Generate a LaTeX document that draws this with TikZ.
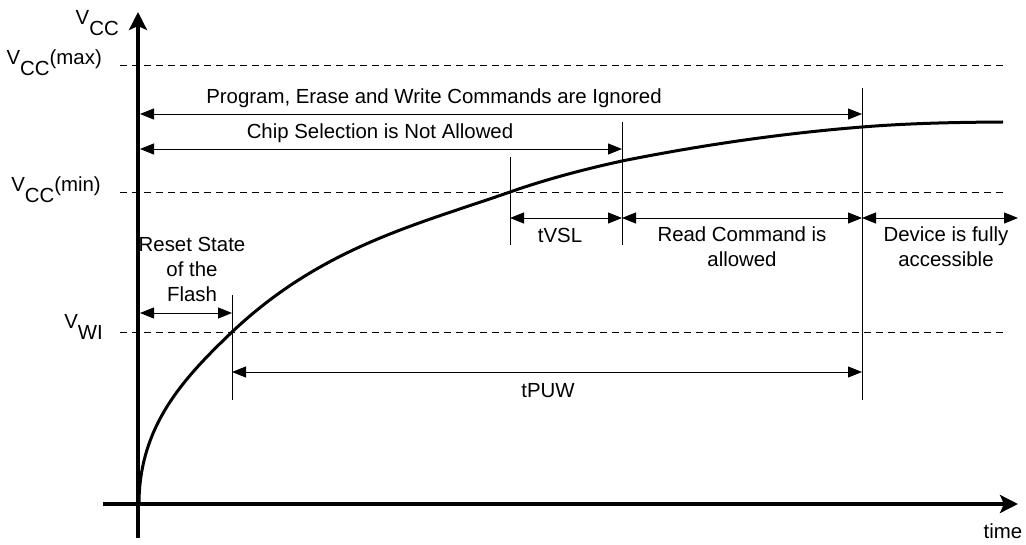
\documentclass[tikz,border=0pt]{standalone}
\usepackage{fontspec}
\setmainfont{Liberation Sans}
\usetikzlibrary{arrows.meta}
\newcommand{\lowsub}[1]{\raisebox{-11pt}{#1}}
\begin{document}
\begin{tikzpicture}[x=1pt,y=-1pt,
  font=\fontsize{20.4}{25}\selectfont,
  axisline/.style={line width=4pt,-{Stealth[length=18pt,width=18pt,inset=4pt]}},
  dimline/.style={line width=0.9pt,{Triangle[length=14pt,width=11pt]}-{Triangle[length=14pt,width=11pt]}},
  tickline/.style={line width=0.9pt},
  levelline/.style={line width=0.9pt,dash pattern=on 7pt off 5pt},
  curveline/.style={line width=3pt},
  lbl/.style={inner sep=0pt,align=center}]
\useasboundingbox (0,0) rectangle (1026,545);
% axes
\coordinate (ybot) at (138,538);
\coordinate (ytop) at (138,12);
\coordinate (xleft) at (103,504);
\coordinate (xright) at (1018,504);
% dashed levels
\coordinate (maxL) at (120,65);  \coordinate (maxR) at (1005,65);
\coordinate (minL) at (120,192); \coordinate (minR) at (1005,192);
\coordinate (wiL) at (120,332);  \coordinate (wiR) at (1005,332);
\draw[levelline] (maxL) -- (maxR);
\draw[levelline] (minL) -- (minR);
\draw[levelline] (wiL) -- (wiR);
% vertical markers
\coordinate (v1t) at (232,295); \coordinate (v1b) at (232,400);
\coordinate (v2t) at (510,157); \coordinate (v2b) at (510,245);
\coordinate (v3t) at (622,122); \coordinate (v3b) at (622,245);
\coordinate (v4t) at (862,88);  \coordinate (v4b) at (862,400);
\draw[tickline] (v1t) -- (v1b);
\draw[tickline] (v2t) -- (v2b);
\draw[tickline] (v3t) -- (v3b);
\draw[tickline] (v4t) -- (v4b);
% curve
\coordinate (c0) at (139,504);
\coordinate (c1) at (232,332);
\coordinate (c2) at (510,192);
\coordinate (c3) at (622,161);
\coordinate (c4) at (862,127);
\coordinate (c5) at (1003,122);
\draw[curveline,line cap=butt] (c0) .. controls (139,425) and (185,377) .. (c1)
  .. controls (322,247) and (417,224.6) .. (c2)
  .. controls (547,179) and (585,169.1) .. (c3)
  .. controls (702,145) and (782,133.4) .. (c4)
  .. controls (909,123.2) and (956,122.3) .. (c5);
\draw[axisline] (ybot) -- (ytop);
\draw[axisline] (xleft) -- (xright);
% dimension arrows
\coordinate (pA) at (140,114); \coordinate (pB) at (862,114);
\coordinate (cA) at (140,149); \coordinate (cB) at (622,149);
\coordinate (rA) at (140,313); \coordinate (rB) at (232,313);
\coordinate (tA) at (510,218); \coordinate (tB) at (622,218);
\coordinate (mB) at (862,218);
\coordinate (dB) at (1018,218);
\coordinate (uA) at (232,372); \coordinate (uB) at (862,372);
\draw[dimline] (pA) -- (pB);
\draw[dimline] (cA) -- (cB);
\draw[dimline] (rA) -- (rB);
\draw[dimline] (tA) -- (tB);
\draw[dimline] (tB) -- (mB);
\draw[dimline] (mB) -- (dB);
\draw[dimline] (uA) -- (uB);
% labels
\node[lbl,anchor=base east] (lvcc) at (119,25) {V\lowsub{CC}};
\node[lbl,anchor=base east] (lmax) at (102,65) {V\lowsub{CC}(max)};
\node[lbl,anchor=base east] (lmin) at (101,192) {V\lowsub{CC}(min)};
\node[lbl,anchor=base east] (lwi) at (103,329) {V\lowsub{WI}};
\node[lbl,anchor=base] (tprog) at (434,104) {Program, Erase and Write Commands are Ignored};
\node[lbl,anchor=base] (tchip) at (380,139) {Chip Selection is Not Allowed};
\node[lbl,anchor=base] (treset) at (192,302) {Reset State\\of the\\Flash};
\node[lbl,anchor=base] (ttvsl) at (560,243) {tVSL};
\node[lbl,anchor=base] (tread) at (742,267) {Read Command is\\allowed};
\node[lbl,anchor=base] (tdev) at (946,267) {Device is fully\\accessible};
\node[lbl,anchor=base] (tpuw) at (548,398) {tPUW};
\node[lbl,anchor=base] (ttime) at (1003,538) {time};
\end{tikzpicture}
\end{document}
